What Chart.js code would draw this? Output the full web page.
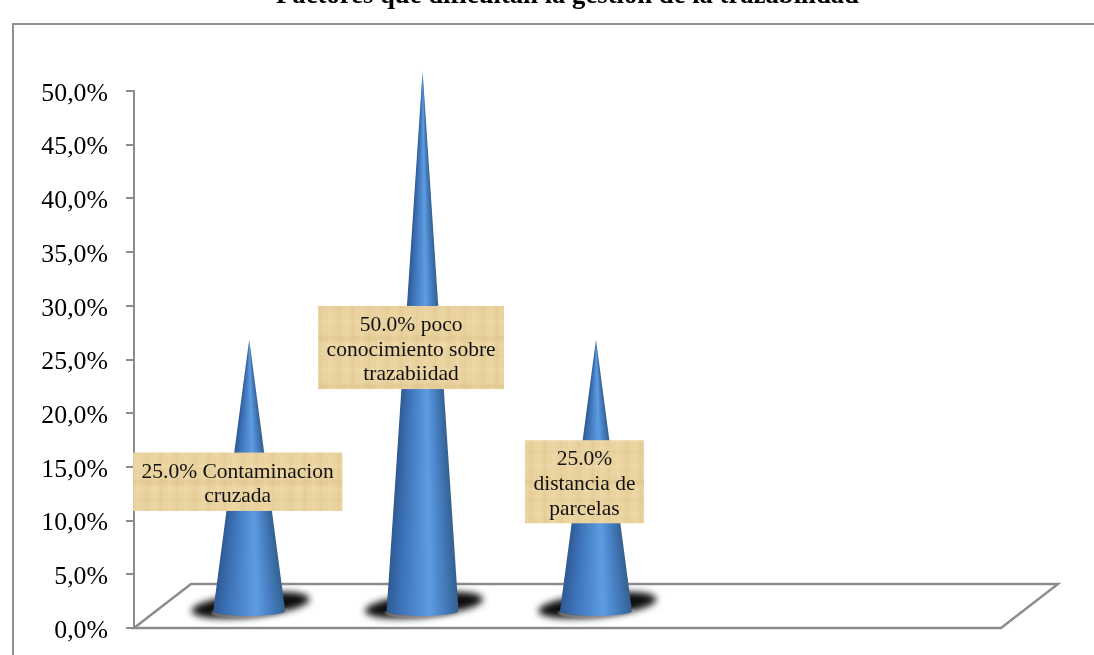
<!DOCTYPE html>
<html lang="es">
<head>
<meta charset="utf-8">
<title>Factores que dificultan la gestión de la trazabilidad</title>
<script src="https://cdn.jsdelivr.net/npm/chart.js@4"></script>
<style>
  html, body { margin: 0; padding: 0; background: #fff; width: 1094px; height: 655px; overflow: hidden; }
  #frame { position: absolute; left: 12px; top: 23px; width: 1090px; height: 640px; border-left: 2px solid #8f8f8f; border-top: 2px solid #8f8f8f; }
  #chart { position: absolute; left: 0; top: -20px; }
</style>
</head>
<body>
<div id="frame"></div>
<canvas id="chart" width="1094" height="675"></canvas>
<script>
  // -----------------------------
  // Data
  // -----------------------------
  const chartTitle = 'Factores que dificultan la gestión de la trazabilidad';
  const categories = ['Contaminacion cruzada', 'poco conocimiento sobre trazabiidad', 'distancia de parcelas', '', ''];
  const percentages = [25, 50, 25, null, null];
  const labelLines = [
    ['Contaminacion', 'cruzada'],
    ['poco', 'conocimiento sobre', 'trazabiidad'],
    ['', 'distancia de', 'parcelas']
  ];
  const axisMax = 50;
  const axisStep = 5;

  // -----------------------------
  // Styling constants
  // -----------------------------
  const SERIF = '"Liberation Serif", "Times New Roman", serif';
  const AXIS_GRAY = '#8c8c8c';
  const FLOOR_DEPTH = { x: 57, y: 44 };
  const CONE_SHIFT = { x: 28.5, tipY: -20, baseY: -16 };
  const CONE_STOPS = [
    [0, '#2f5a94'],
    [0.2, '#3d73b8'],
    [0.6, '#5e9ce2'],
    [0.82, '#437bbd'],
    [1, '#35608f']
  ];

  // Tick labels sit a little lower than the canvas middle baseline puts them
  const baseDrawLabels = Chart.LinearScale.prototype.drawLabels;
  Chart.LinearScale.prototype.drawLabels = function (chartArea) {
    this.ctx.save();
    this.ctx.translate(0, 3);
    baseDrawLabels.call(this, chartArea);
    this.ctx.restore();
  };

  // -----------------------------
  // Cone shaped bar
  // -----------------------------
  class ConeElement extends Chart.BarElement {
    static id = 'cone';
    static defaults = Chart.BarElement.defaults;

    draw(ctx) {
      const { x, y, base, width } = this.getProps(['x', 'y', 'base', 'width']);
      const cx = x + CONE_SHIFT.x;
      const tip = y + CONE_SHIFT.tipY;
      const floor = base + CONE_SHIFT.baseY;
      const half = width / 2;
      const rim = 5;

      ctx.save();

      // blurred contact shadow, skewed to follow the floor
      ctx.save();
      ctx.filter = 'blur(3.5px)';
      ctx.translate(cx + 1.5, floor - 6);
      ctx.transform(1, -0.1, 0, 1, 0, 0);
      ctx.fillStyle = 'rgba(5,5,5,0.97)';
      ctx.beginPath();
      ctx.ellipse(0, 0, half + 23, 12, 0, 0, Math.PI * 2);
      ctx.fill();
      ctx.restore();

      // pale ring where the cone meets the floor
      ctx.save();
      ctx.filter = 'blur(0.8px)';
      ctx.strokeStyle = 'rgba(176,160,160,0.9)';
      ctx.lineWidth = 2;
      ctx.beginPath();
      ctx.ellipse(cx + 0.5, floor - 0.5, half + 1.5, rim + 1, -0.03, 0, Math.PI);
      ctx.stroke();
      ctx.restore();

      // cone body: one gradient per row so the shading follows the taper
      ctx.beginPath();
      ctx.moveTo(cx, tip);
      ctx.lineTo(cx - half, floor);
      ctx.ellipse(cx, floor, half, rim, 0, Math.PI, 0, true);
      ctx.closePath();
      ctx.clip();
      for (let row = Math.floor(tip); row < floor + rim; row++) {
        const w = Math.max(1, half * Math.min(1, (row + 0.5 - tip) / (floor - tip)));
        const shade = ctx.createLinearGradient(cx - w, 0, cx + w, 0);
        CONE_STOPS.forEach(([stop, color]) => shade.addColorStop(stop, color));
        ctx.fillStyle = shade;
        ctx.fillRect(cx - w - 1, row, w * 2 + 2, 1);
      }
      ctx.restore();
    }
  }

  class ConeController extends Chart.BarController {
    static id = 'cone';
    static defaults = { ...Chart.BarController.defaults, dataElementType: 'cone' };
  }

  Chart.register(ConeElement, ConeController);

  // -----------------------------
  // Floor of the 3D plot
  // -----------------------------
  const floorPlugin = {
    id: 'floorPlugin',
    beforeDatasetsDraw(chart) {
      const { ctx, chartArea: { left, right, bottom } } = chart;
      ctx.save();
      ctx.strokeStyle = AXIS_GRAY;
      ctx.lineWidth = 2.4;
      ctx.lineJoin = 'miter';
      ctx.beginPath();
      ctx.moveTo(left, bottom);
      ctx.lineTo(left + FLOOR_DEPTH.x, bottom - FLOOR_DEPTH.y);
      ctx.lineTo(right + FLOOR_DEPTH.x, bottom - FLOOR_DEPTH.y);
      ctx.lineTo(right, bottom);
      ctx.closePath();
      ctx.stroke();
      ctx.restore();
    }
  };

  // -----------------------------
  // Parchment boxes with the value labels
  // -----------------------------
  function parchmentPattern(ctx) {
    const tile = document.createElement('canvas');
    tile.width = 48;
    tile.height = 48;
    const t = tile.getContext('2d');
    t.fillStyle = '#ead39f';
    t.fillRect(0, 0, 48, 48);
    t.filter = 'blur(1px)';
    t.lineWidth = 2;
    [[3, 'rgba(190,150,85,0.12)'], [11, 'rgba(255,245,215,0.22)'], [17, 'rgba(190,150,85,0.14)'],
     [26, 'rgba(255,245,215,0.2)'], [33, 'rgba(180,140,80,0.1)'], [42, 'rgba(255,245,215,0.2)']].forEach(([p, c]) => {
      t.strokeStyle = c;
      t.beginPath();
      t.moveTo(p, 0); t.lineTo(p, 48);
      t.moveTo(0, (p * 7) % 48); t.lineTo(48, (p * 7) % 48);
      t.stroke();
    });
    return ctx.createPattern(tile, 'repeat');
  }

  const labelBoxPlugin = {
    id: 'labelBoxPlugin',
    afterDatasetsDraw(chart) {
      const { ctx } = chart;
      const meta = chart.getDatasetMeta(0);
      const lineHeight = 24.7;
      ctx.save();
      ctx.font = `21.5px ${SERIF}`;
      ctx.textAlign = 'center';
      ctx.textBaseline = 'middle';
      labelLines.forEach((lines, i) => {
        const bar = meta.data[i];
        const text = lines.map((l, j) => (j === 0 ? `${percentages[i].toFixed(1)}% ${l}`.trim() : l));
        const w = Math.max(...text.map(l => ctx.measureText(l).width)) + 17;
        const h = text.length * lineHeight + 9;
        const cx = bar.x + 17;
        const cy = (bar.y + bar.base) / 2 - 11.5;
        ctx.fillStyle = parchmentPattern(ctx);
        ctx.fillRect(cx - w / 2, cy - h / 2, w, h);
        ctx.fillStyle = '#111';
        text.forEach((l, j) => {
          ctx.fillText(l, cx, cy + 2.5 + (j - (text.length - 1) / 2) * lineHeight);
        });
      });
      ctx.restore();
    }
  };

  // -----------------------------
  // Chart
  // -----------------------------
  new Chart(document.getElementById('chart'), {
    type: 'cone',
    data: {
      labels: categories,
      datasets: [{
        label: 'Factores',
        data: percentages,
        categoryPercentage: 1,
        barPercentage: 0.415,
        clip: false
      }]
    },
    options: {
      responsive: false,
      animation: false,
      layout: { padding: { left: 0, right: 93, top: 0, bottom: 27 } },
      plugins: {
        legend: { display: false },
        tooltip: { enabled: false },
        title: {
          display: true,
          text: chartTitle,
          fullSize: false,
          color: '#000',
          font: { family: SERIF, size: 26.7, weight: 'bold' },
          padding: { top: 0, bottom: 78.96 }
        }
      },
      scales: {
        x: { type: 'category', display: false },
        y: {
          type: 'linear',
          min: 0,
          max: axisMax,
          afterFit(scale) {
            // fixed axis gutter; tick padding must not push the plot up from the bottom
            scale.width = 134;
            scale.paddingTop = 0;
            scale.paddingBottom = 0;
          },
          border: { color: AXIS_GRAY, width: 2 },
          grid: { drawOnChartArea: false, drawTicks: true, tickLength: 8, color: AXIS_GRAY, lineWidth: 2 },
          ticks: {
            stepSize: axisStep,
            padding: 18,
            color: '#000',
            font: { family: SERIF, size: 25.8 },
            callback: v => `${v.toFixed(1).replace('.', ',')}%`
          }
        }
      }
    },
    plugins: [floorPlugin, labelBoxPlugin]
  });
</script>
</body>
</html>
